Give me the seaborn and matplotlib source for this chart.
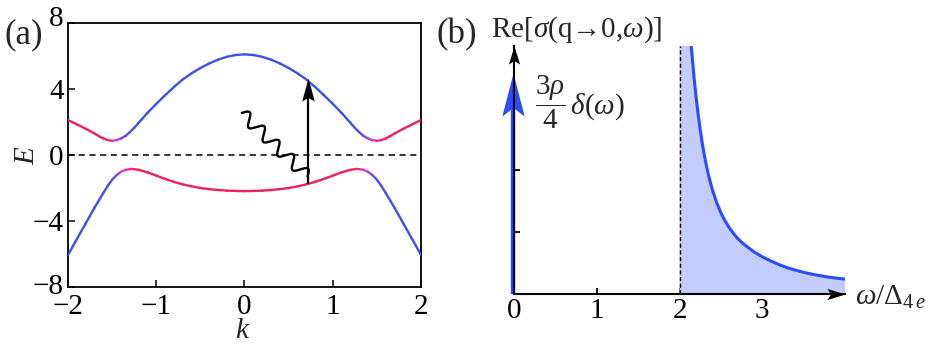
import numpy as np
import pandas as pd
import matplotlib
matplotlib.use("Agg")
import matplotlib.pyplot as plt
import seaborn as sns
from matplotlib.collections import LineCollection
from matplotlib.path import Path
from matplotlib.colors import LinearSegmentedColormap
from matplotlib.transforms import ScaledTranslation

# ---------------- data: panel (a) band structure ----------------
k_vals = [-2.0, -1.9, -1.8, -1.7, -1.65, -1.6, -1.55, -1.5, -1.45, -1.4, -1.35, -1.3, -1.25,
          -1.2, -1.1, -1.0, -0.9, -0.8, -0.7, -0.6, -0.5, -0.4, -0.3, -0.2, -0.1, 0.0,
          0.1, 0.2, 0.3, 0.4, 0.5, 0.6, 0.7, 0.8, 0.9, 1.0, 1.1, 1.2, 1.25, 1.3, 1.35,
          1.4, 1.45, 1.5, 1.55, 1.6, 1.65, 1.7, 1.8, 1.9, 2.0]
E_upper = [2.12, 1.86, 1.59, 1.30, 1.14, 1.00, 0.90, 0.86, 0.90, 1.00, 1.15, 1.38, 1.65,
           1.95, 2.55, 3.10, 3.62, 4.12, 4.58, 4.95, 5.27, 5.55, 5.78, 5.95, 6.06, 6.10,
           6.06, 5.95, 5.78, 5.55, 5.27, 4.95, 4.58, 4.12, 3.62, 3.10, 2.55, 1.95, 1.65,
           1.38, 1.15, 1.00, 0.90, 0.86, 0.90, 1.00, 1.14, 1.30, 1.59, 1.86, 2.12]
E_lower = [-6.06, -5.10, -4.15, -3.20, -2.75, -2.30, -1.87, -1.50, -1.22, -1.02, -0.90, -0.86,
           -0.86, -0.90, -1.05, -1.25, -1.45, -1.63, -1.78, -1.90, -2.00, -2.07, -2.12, -2.16,
           -2.18, -2.19, -2.18, -2.16, -2.12, -2.07, -2.00, -1.90, -1.78, -1.63, -1.45, -1.25,
           -1.05, -0.90, -0.86, -0.86, -0.90, -1.02, -1.22, -1.50, -1.87, -2.30, -2.75, -3.20,
           -4.15, -5.10, -6.06]
k_ticks = [-2, -1, 0, 1, 2]
E_ticks = [-8, -4, 0, 4, 8]
arrow_k = 0.715
arrow_E = [-1.76, 4.65]
photon_start = [-0.03, 2.55]
photon_end = [0.715, -1.30]

# ---------------- data: panel (b) optical conductivity ----------------
omega_vals = [2.0, 2.05, 2.1, 2.13, 2.15, 2.175, 2.2, 2.225, 2.25, 2.275, 2.3, 2.325, 2.35,
              2.375, 2.4, 2.45, 2.5, 2.55, 2.6, 2.65, 2.7, 2.75, 2.8, 2.9, 3.0, 3.1, 3.2,
              3.3, 3.4, 3.5, 3.6, 3.7, 3.8, 3.9, 4.0]
sigma_vals = [30.0, 8.0, 5.0, 4.15, 3.88, 3.50, 3.18, 2.90, 2.65, 2.43, 2.24, 2.07, 1.92,
              1.79, 1.67, 1.47, 1.31, 1.18, 1.07, 0.98, 0.90, 0.835, 0.78, 0.68, 0.60, 0.535,
              0.475, 0.425, 0.385, 0.35, 0.32, 0.295, 0.272, 0.255, 0.24]
omega_ticks = [0, 1, 2, 3]
sigma_ticks = [1, 2, 3]
delta_height = 3.56
gap_omega = 2.0

# ---------------- style ----------------
sns.set_theme(style="white")
plt.rcParams.update({
    "mathtext.fontset": "custom",
    "mathtext.rm": "Liberation Serif",
    "mathtext.it": "Liberation Serif:italic",
    "mathtext.bf": "Liberation Serif:bold",
    "axes.unicode_minus": True,
})
plt.rcParams["font.family"] = ["Liberation Serif", "DejaVu Serif"]
SERIF = ["Liberation Serif", "DejaVu Serif"]

BLUE = "#3c50f0"
RED = "#f0205a"
MAG = "#d63ce0"
BLUE_B = "#2a4cff"
FILL_B = "#c3cbff"

W, H = 942, 347
fig = plt.figure(figsize=(W / 100, H / 100), dpi=100)

axA = fig.add_axes([68 / W, 1 - 287 / H, 353 / W, 264 / H])
axB = fig.add_axes([514 / W, 1 - 294 / H, 331 / W, 248 / H])


def head_marker(length, width, notch, direction):
    verts = np.array([(0, 0), (-length, width / 2), (-length * notch, 0),
                      (-length, -width / 2), (0, 0)], dtype=float)
    if direction == "up":
        verts = np.column_stack([-verts[:, 1], verts[:, 0]])
    codes = [Path.MOVETO, Path.LINETO, Path.LINETO, Path.LINETO, Path.CLOSEPOLY]
    return Path(verts, codes)


# ---------------- panel (a) ----------------
cmap = LinearSegmentedColormap.from_list("band", [BLUE, MAG, RED])
k_arr = np.asarray(k_vals)


def gradient_line(ax, k, e, center, width, red_outside):
    pts = np.column_stack([k, e])
    segs = np.stack([pts[:-1], pts[1:]], axis=1)
    kmid = np.abs(0.5 * (k[:-1] + k[1:]))
    w = 1.0 / (1.0 + np.exp(-(kmid - center) / width))
    if not red_outside:
        w = 1.0 - w
    lc = LineCollection(segs, colors=cmap(w), linewidths=1.7, capstyle="round",
                        joinstyle="round", zorder=3)
    ax.add_collection(lc)


gradient_line(axA, k_arr, np.asarray(E_upper), 1.45, 0.055, True)
gradient_line(axA, k_arr, np.asarray(E_lower), 1.37, 0.055, False)

sns.lineplot(x=[-2, 2], y=[0, 0], ax=axA, color="black", lw=1.1,
             linestyle=(0, (4, 3)), zorder=2)

axA.set_xlim(-2, 2)
axA.set_ylim(-8, 8)
axA.set_xticks(k_ticks)
axA.set_yticks(E_ticks)
axA.set_xticklabels([f"{t}".replace("-", "\u2212") for t in k_ticks], fontfamily=SERIF)
axA.set_yticklabels([f"{t}".replace("-", "\u2212") for t in E_ticks], fontfamily=SERIF)
axA.tick_params(axis="both", which="both", direction="in", length=5, width=1.1,
                labelsize=21, color="black", labelcolor="black",
                bottom=True, left=True, top=False, right=False)
axA.tick_params(axis="x", pad=5)
axA.tick_params(axis="y", pad=3)
for sp in axA.spines.values():
    sp.set_visible(True)
    sp.set_color("black")
    sp.set_linewidth(1.3)
axA.set_xlabel("")
axA.set_ylabel("")
# the top label "8" sits a little higher, the bottom "-8" a little higher too
ylbls = axA.get_yticklabels()
ylbls[-1].set_transform(ylbls[-1].get_transform()
                        + ScaledTranslation(0, 7 / 100, fig.dpi_scale_trans))
ylbls[0].set_transform(ylbls[0].get_transform()
                       + ScaledTranslation(0, 3 / 100, fig.dpi_scale_trans))

# excitation arrow
axA.plot([arrow_k, arrow_k], [arrow_E[0], arrow_E[1] - 0.8], color="black", lw=1.6,
         zorder=5, solid_capstyle="butt")
axA.plot([arrow_k], [arrow_E[1]], marker=head_marker(1.0, 0.55, 0.85, "up"),
         markersize=33, color="black", markeredgewidth=0, zorder=6, clip_on=False)

# photon (wiggly line)
sx = 353 / 4.0
sy = 264 / 16.0
p0 = np.array([photon_start[0] * sx, photon_start[1] * sy])
p1 = np.array([photon_end[0] * sx, photon_end[1] * sy])
d = p1 - p0
L = np.linalg.norm(d)
u = d / L
nrm = np.array([-u[1], u[0]])
t = np.linspace(0, 1, 600)
amp = 6.0
wig = p0 + np.outer(t, d) + np.outer(amp * np.sin(2 * np.pi * 4.5 * t), nrm)
axA.plot(wig[:, 0] / sx, wig[:, 1] / sy, color="black", lw=1.7, zorder=5)

fig.text(27 / W, 1 - 155 / H, "$E$", rotation=90, ha="center", va="center", fontsize=21)
fig.text(243 / W, 1 - 331 / H, "$k$", ha="center", va="center", fontsize=21)
fig.text(5 / W, 1 - 35 / H, "(a)", ha="left", va="center", fontsize=25, fontfamily=SERIF)

# ---------------- panel (b) ----------------
df = pd.DataFrame({"omega": omega_vals, "sigma": sigma_vals})
axB.fill_between(df["omega"], df["sigma"], 0, color=FILL_B, lw=0, zorder=1)
sns.lineplot(data=df, x="omega", y="sigma", ax=axB, color=BLUE_B, lw=2.2, zorder=3)
axB.plot([gap_omega, gap_omega], [0, 4.0], color="black", lw=1.0,
         linestyle=(0, (3, 1.8)), zorder=4)

# delta peak at omega = 0
xd = -0.018
axB.plot([xd, xd], [0, delta_height - 0.3], color=BLUE_B, lw=3.2, zorder=4,
         clip_on=False, solid_capstyle="butt")
axB.plot([xd], [delta_height], marker=head_marker(1.0, 0.52, 0.8, "up"),
         markersize=62, color=BLUE_B, markeredgewidth=0, zorder=4, clip_on=False)

axB.set_xlim(0, 4)
axB.set_ylim(0, 4.0)
axB.set_xticks(omega_ticks)
axB.set_xticklabels([str(t) for t in omega_ticks], fontfamily=SERIF)
axB.set_yticks(sigma_ticks)
axB.set_yticklabels([])
axB.tick_params(axis="both", which="both", direction="in", length=4.5, width=1.3,
                labelsize=21, pad=3, color="black", labelcolor="black",
                bottom=True, left=True, top=False, right=False)
for name, sp in axB.spines.items():
    if name in ("left", "bottom"):
        sp.set_visible(True)
        sp.set_color("black")
        sp.set_linewidth(1.5)
        sp.set_zorder(6)
    else:
        sp.set_visible(False)
axB.set_xlabel("")
axB.set_ylabel("")

# axis arrow heads
axB.plot([4.0], [0], marker=head_marker(1.0, 0.62, 0.8, "right"), markersize=26,
         color="black", markeredgewidth=0, zorder=7, clip_on=False)
axB.plot([0], [4.0], marker=head_marker(1.0, 0.62, 0.8, "up"), markersize=26,
         color="black", markeredgewidth=0, zorder=7, clip_on=False)

fig.text(437 / W, 1 - 35 / H, "(b)", ha="left", va="center", fontsize=25, fontfamily=SERIF)
fig.text(491 / W, 1 - 30 / H, "Re[$\\sigma$(q\u21920,$\\omega$)]",
         ha="left", va="center", fontsize=21, fontfamily=SERIF)
fig.text(535 / W, 1 - 102 / H, r"$\dfrac{3\rho}{4}\,\delta(\omega)$",
         ha="left", va="center", fontsize=21)
fig.text(855 / W, 1 - 305 / H, r"$\omega/\Delta_{4\,e}$", ha="left", va="baseline",
         fontsize=21)

fig.savefig("out.png", dpi=100)
